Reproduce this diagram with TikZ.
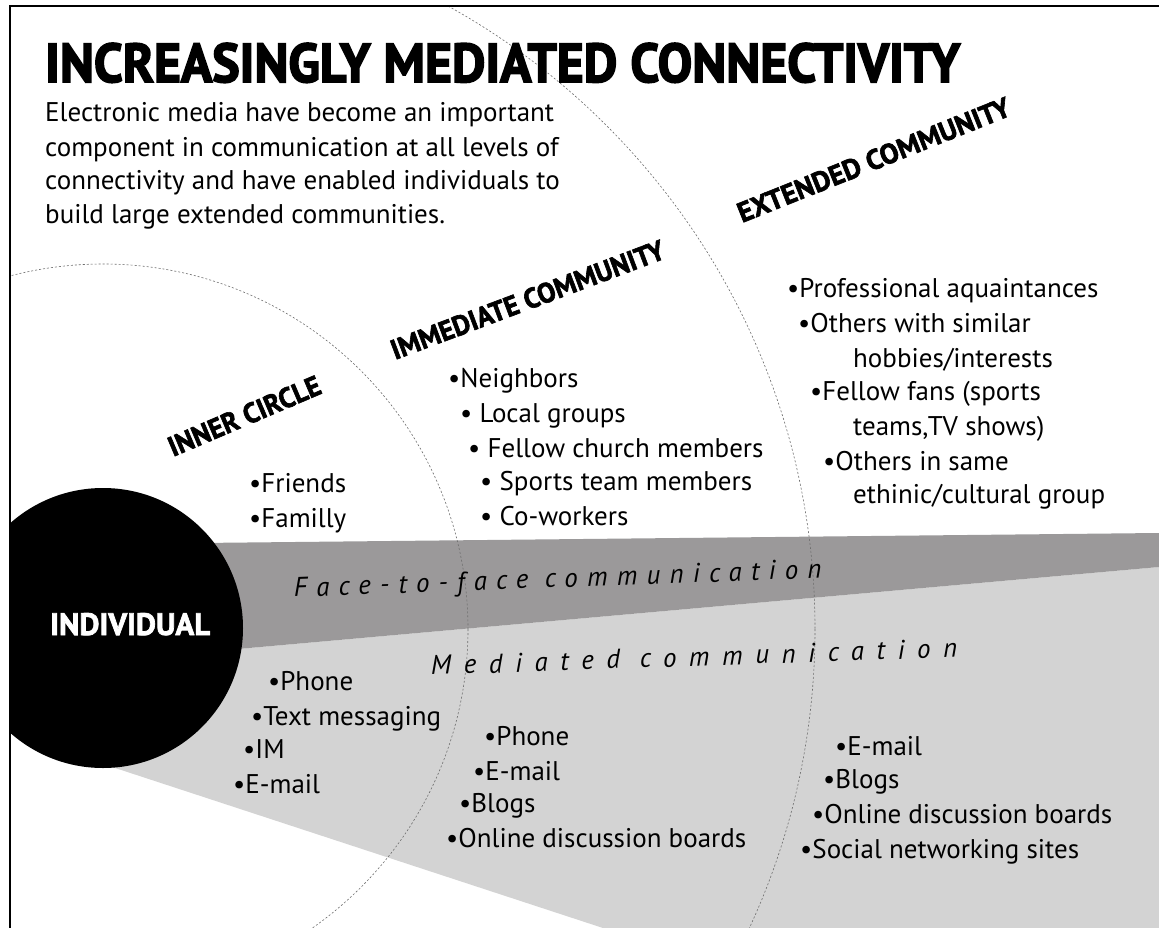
\documentclass[tikz,border=0pt]{standalone}
\usepackage{fontspec}
\setmainfont{PT Sans}
\newfontfamily\heavy[FakeBold=3]{PT Sans}
\newfontfamily\labelheavy[FakeBold=2.2]{PT Sans}
\newfontfamily\spacedA[LetterSpace=34]{PT Sans}
\newfontfamily\spacedB[LetterSpace=46.5]{PT Sans}
\definecolor{bandDark}{RGB}{155,153,154}
\definecolor{bandLight}{RGB}{211,211,211}
\definecolor{ringGray}{RGB}{110,110,110}
\newcommand{\bodysize}{\fontsize{27}{27}\selectfont}
\begin{document}
\begin{tikzpicture}[x=1pt,y=-1pt,
  ring/.style={draw=ringGray, line width=0.6pt, dash pattern=on 2pt off 2pt},
  txt/.style={anchor=base west, inner sep=0pt, font=\bodysize},
  lbl/.style={anchor=base west, inner sep=0pt},
  commtxt/.style={anchor=base west, inner sep=0pt}]
\useasboundingbox (0,0) rectangle (1159,928);
\fill[white] (0,0) rectangle (1159,928);

% background bands, rings and the individual, kept inside the frame
\begin{scope}
  \clip (10,6) rectangle (1159,928);
  \fill[bandLight] (103,661) -- (1159,567) -- (1159,928) -- (603,928) -- (103,764) -- cycle;
  \fill[bandDark] (103,544) -- (1159,533) -- (1159,567) -- (103,661) -- cycle;
  \draw[ring] (103,629) circle[radius=365];
  \draw[ring] (103,629) circle[radius=712];
  \node[circle, fill=black, inner sep=0pt, minimum size=280pt] (individual) at (103,628) {};
\end{scope}

% frame
\draw[line width=1.5pt] (10,928) -- (10,6) -- (1159,6);

% heading
\node[lbl] (title) at (45,82) {\resizebox{915pt}{39pt}{\fontsize{40}{40}\heavy\bfseries INCREASINGLY MEDIATED CONNECTIVITY}};
\node[txt] (intro1) at (45,122) {Electronic media have become an important};
\node[txt] (intro2) at (45,157) {component in communication at all levels of};
\node[txt] (intro3) at (45,190) {connectivity and have enabled individuals to};
\node[txt] (intro4) at (45,223) {build large extended communities.};

% ring labels
\node[lbl, rotate=23.1] (innerlbl) at (173,457) {\resizebox{163pt}{20pt}{\fontsize{20}{20}\labelheavy\bfseries INNER CIRCLE}};
\node[lbl, rotate=20.6] (immlbl) at (395,360) {\resizebox{290pt}{20pt}{\fontsize{20}{20}\labelheavy\bfseries IMMEDIATE COMMUNITY}};
\node[lbl, rotate=21.8] (extlbl) at (742,223) {\resizebox{291pt}{20pt}{\fontsize{20}{20}\labelheavy\bfseries EXTENDED COMMUNITY}};

\node[lbl, text=white] (indlbl) at (50,635) {\resizebox{160pt}{22pt}{\fontsize{22}{22}\labelheavy\bfseries INDIVIDUAL}};

% inner circle members
\node[txt] (friends) at (249,492) {•Friends};
\node[txt] (family) at (249,527) {•Familly};

% immediate community members
\node[txt] (neigh) at (448,387) {•Neighbors};
\node[txt] (local) at (460,422) {• Local groups};
\node[txt] (church) at (468,457) {• Fellow church members};
\node[txt] (sports) at (480,490) {• Sports team members};
\node[txt] (cowork) at (480,525) {• Co-workers};

% extended community members
\node[txt] (prof) at (787,297) {•Professional aquaintances};
\node[txt] (hobby1) at (798,332) {•Others with similar};
\node[txt] (hobby2) at (853,367) {hobbies/interests};
\node[txt] (fans1) at (810,400) {•Fellow fans (sports};
\node[txt] (fans2) at (853,435) {teams,TV shows)};
\node[txt] (ethn1) at (823,470) {•Others in same};
\node[txt] (ethn2) at (853,503) {ethinic/cultural group};

% band captions
\node[commtxt, rotate=2.07] (f2f) at (294,597) {\spacedA\itshape\bodysize Face-to-face communication};
\node[commtxt, rotate=1.96] (med) at (431,675) {\spacedB\itshape\bodysize Mediated communication};

% mediated channels, inner circle
\node[txt] (mphone1) at (268,690) {•Phone};
\node[txt] (mtext) at (251,725) {•Text messaging};
\node[txt] (mim) at (243,758) {•IM};
\node[txt] (memail1) at (233,793) {•E-mail};

% mediated channels, immediate community
\node[txt] (mphone2) at (484,745) {•Phone};
\node[txt] (memail2) at (473,780) {•E-mail};
\node[txt] (mblog2) at (459,812) {•Blogs};
\node[txt] (mboard2) at (446,847) {•Online discussion boards};

% mediated channels, extended community
\node[txt] (memail3) at (835,755) {•E-mail};
\node[txt] (mblog3) at (823,788) {•Blogs};
\node[txt] (mboard3) at (812,823) {•Online discussion boards};
\node[txt] (msocial3) at (800,858) {•Social networking sites};
\end{tikzpicture}
\end{document}
